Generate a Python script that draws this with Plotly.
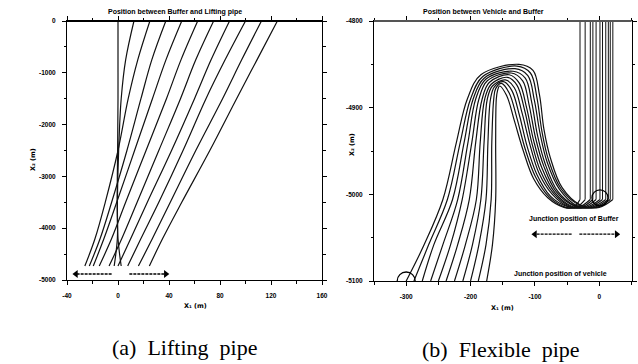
import plotly.graph_objects as go

# ---------------- data ----------------
# (a) lifting pipe: depth stations (m) and X1 position of each pipe at those depths
LIFT_DEPTH = [0, -750, -1500, -2500, -3500, -4200, -4730]
LIFT_X = [
    [0, 0, 0, -0.3, -0.6, 0, 2.5],
    [12.5, 6, 2.5, 0.5, -0.5, -0.5, -3],
    [25, 15.5, 8, 0, -10, -18, -26],
    [37.5, 26.5, 18, 7, -5, -14, -22.5],
    [50, 37.6, 27, 13, -1, -11, -19.4],
    [62.5, 49.4, 38, 22, 6, -5, -14.7],
    [75, 61, 49, 32, 15, 3, -7],
    [87.5, 73, 60, 42, 23, 10, 0],
    [100, 84, 69, 51, 32, 18, 7.6],
    [112.5, 97, 82, 61, 41, 27, 16],
    [125, 109, 93, 72, 50, 35, 24.6],
]

# (b) flexible pipe: each curve from vehicle junction to buffer junction
FLEX_X = [
    [-300, -272, -243, -222, -205, -184, -125, -103, -93, -86, -76, -58, -30, 0],
    [-288, -265, -236, -216, -200, -181, -128, -107, -97, -89, -79, -60, -32, -4],
    [-275, -257, -228, -210, -196, -179, -131, -111, -101, -92, -81, -62, -35, -8],
    [-262, -243, -220, -204, -192, -176, -134, -115, -105, -96, -84, -65, -38, -12],
    [-250, -231, -213, -198, -187, -174, -137, -119, -109, -99, -86, -67, -40, -16],
    [-238, -220, -202, -192, -182, -171, -140, -124, -113, -102, -89, -69, -42, -20],
    [-225, -208, -191, -185, -178, -168, -143, -128, -116, -105, -92, -71, -45, -24],
    [-212, -197, -184, -179, -174, -166, -146, -132, -120, -108, -94, -73, -48, -28],
    [-200, -187, -176, -173, -169, -163, -149, -136, -124, -112, -97, -76, -50, -32],
    [-188, -176, -168, -167, -164, -161, -152, -140, -128, -115, -99, -78, -52, -36],
    [-175, -166, -161, -161, -160, -158, -155, -144, -132, -118, -102, -80, -55, -40],
]
FLEX_Y = [
    [-5100, -5058, -5006, -4940, -4890, -4862, -4850, -4857, -4885, -4925, -4958, -4992, -5012, -5015],
    [-5100, -5058, -5006, -4940, -4890, -4864, -4852, -4860, -4888, -4928, -4960, -4993, -5012, -5015],
    [-5100, -5058, -5006, -4940, -4890, -4866, -4855, -4863, -4891, -4930, -4963, -4994, -5013, -5015],
    [-5100, -5058, -5006, -4940, -4890, -4867, -4858, -4866, -4894, -4932, -4965, -4996, -5013, -5015],
    [-5100, -5058, -5006, -4940, -4890, -4869, -4860, -4869, -4897, -4935, -4968, -4997, -5013, -5015],
    [-5100, -5058, -5006, -4940, -4890, -4871, -4862, -4872, -4900, -4938, -4970, -4998, -5014, -5015],
    [-5100, -5058, -5006, -4940, -4890, -4873, -4865, -4874, -4903, -4940, -4972, -4999, -5014, -5015],
    [-5100, -5058, -5006, -4940, -4890, -4875, -4868, -4877, -4906, -4942, -4975, -5000, -5014, -5015],
    [-5100, -5058, -5006, -4940, -4890, -4876, -4870, -4880, -4909, -4945, -4977, -5002, -5014, -5015],
    [-5100, -5058, -5006, -4940, -4890, -4878, -4872, -4883, -4912, -4948, -4980, -5003, -5015, -5015],
    [-5100, -5058, -5006, -4940, -4890, -4880, -4875, -4886, -4915, -4950, -4982, -5004, -5015, -5015],
]
BUFFER_X = [21, 17, 14, 10, 5, 1, -5, -10, -14, -22, -30]
BUFFER_Y = -5006
TOP_Y = -4800

L_XTICKS = [-40, 0, 40, 80, 120, 160]
L_XTEXT = ["-40", "0", "40", "80", "120", "160"]
L_YTICKS = [0, -1000, -2000, -3000, -4000, -5000]
L_YTEXT = ["0", "-1000", "-2000", "-3000", "-4000", "-5000"]
R_XTICKS = [-300, -200, -100, 0]
R_XTEXT = ["-300", "-200", "-100", "0"]
R_YTICKS = [-4800, -4900, -5000, -5100]
R_YTEXT = ["-4800", "-4900", "-5000", "-5100"]

# ---------------- figure ----------------
W, H = 638, 364
fig = go.Figure()
LINE = dict(color="#111111", width=1.2, shape="spline", smoothing=1.0)

for xs in LIFT_X:
    fig.add_trace(go.Scatter(x=xs, y=LIFT_DEPTH, mode="lines", line=LINE,
                             xaxis="x", yaxis="y", showlegend=False, hoverinfo="skip"))

for xs, ys, xb in zip(FLEX_X, FLEX_Y, BUFFER_X):
    fig.add_trace(go.Scatter(x=xs + [xb], y=ys + [BUFFER_Y], mode="lines", line=LINE,
                             xaxis="x2", yaxis="y2", showlegend=False, hoverinfo="skip"))
    fig.add_trace(go.Scatter(x=[xb, xb], y=[BUFFER_Y, TOP_Y], mode="lines",
                             line=dict(color="#111111", width=1.0),
                             xaxis="x2", yaxis="y2", showlegend=False, hoverinfo="skip"))

# arrows: dotted shafts with heads
def arrow_trace(x_tail, x_head, y, xa, ya, sym):
    fig.add_trace(go.Scatter(x=[x_tail, x_head], y=[y, y], mode="lines",
                             line=dict(color="black", width=1.3, dash="3px,1px"),
                             xaxis=xa, yaxis=ya, showlegend=False, hoverinfo="skip"))
    fig.add_trace(go.Scatter(x=[x_head], y=[y], mode="markers",
                             marker=dict(symbol=sym, size=7, color="black"),
                             xaxis=xa, yaxis=ya, showlegend=False, hoverinfo="skip"))

arrow_trace(-5, -33, -4884, "x", "y", "triangle-left")
arrow_trace(8.9, 37.5, -4884, "x", "y", "triangle-right")
arrow_trace(-43, -100, -5046, "x2", "y2", "triangle-left")
arrow_trace(-31, 27, -5046, "x2", "y2", "triangle-right")

TF = dict(family="Liberation Sans, Arial", size=6.5, color="black", weight="bold")

def ax(domain, rng, tv, tt, minor_d, anchor):
    return dict(domain=domain, range=rng, tickvals=tv, ticktext=tt, anchor=anchor,
                automargin=False,
                showline=True, linecolor="black", linewidth=1, mirror="allticks",
                ticks="outside", ticklen=4, tickwidth=1, tickcolor="black",
                minor=dict(dtick=minor_d, ticks="outside", ticklen=2.5, tickcolor="black", tickwidth=1),
                showgrid=False, zeroline=False, tickfont=TF, ticklabelstandoff=5)

xd1 = [67 / W, 322 / W]
yd1 = [1 - 280 / H, 1 - 21 / H]
xd2 = [374 / W, 631.5 / W]
yd2 = [1 - 281 / H, 1 - 21 / H]

fig.update_layout(
    width=W, height=H, margin=dict(l=0, r=0, t=0, b=0, autoexpand=False),
    paper_bgcolor="white", plot_bgcolor="white",
    xaxis=ax(xd1, [-40, 160], L_XTICKS, L_XTEXT, 20, "y"),
    yaxis=ax(yd1, [-5000, 0], L_YTICKS, L_YTEXT, 500, "x"),
    xaxis2=ax(xd2, [-350, 50], R_XTICKS, R_XTEXT, 50, "y2"),
    yaxis2=ax(yd2, [-5100, -4800], R_YTICKS, R_YTEXT, 50, "x2"),
)

SF = dict(family="Liberation Sans, Arial", size=7, color="black", weight="bold")
AF = dict(family="DejaVu Sans", size=6.5, color="black", weight="bold")
CAP = dict(family="Liberation Serif, DejaVu Serif", size=22, color="black")
ann = []
def txt(x, y, s, font, xref="paper", yref="paper", angle=0):
    ann.append(dict(x=x, y=y, xref=xref, yref=yref, text=s, showarrow=False,
                    font=font, textangle=angle, xanchor="center", yanchor="middle"))

txt(175 / W, 1 - 12 / H, "Position between Buffer and Lifting pipe", SF)
txt(483 / W, 1 - 12 / H, "Position between Vehicle and Buffer", SF)
txt(195 / W, 1 - 306 / H, "X\u2081 (m)", AF)
txt(503 / W, 1 - 308 / H, "X\u2081 (m)", AF)
txt(33 / W, 1 - 160 / H, "X\u2082 (m)", AF, angle=-90)
txt(352 / W, 1 - 145 / H, "X\u2082 (m)", AF, angle=-90)
txt(184 / W, 1 - 347 / H, "(a)\u00a0\u00a0Lifting\u00a0\u00a0pipe", CAP)
txt(501 / W, 1 - 349 / H, "(b)\u00a0\u00a0Flexible\u00a0\u00a0pipe", CAP)
txt(-39, -5028, "Junction position of Buffer", SF, "x2", "y2")
txt(-61, -5092, "Junction position of vehicle", SF, "x2", "y2")
fig.update_layout(annotations=ann)

shapes = [
    dict(type="circle", xref="x2", yref="y2", xsizemode="pixel", ysizemode="pixel",
         xanchor=-300, yanchor=-5100, x0=-9, x1=9, y0=-9, y1=9,
         line=dict(color="black", width=1.3)),
    dict(type="circle", xref="x2", yref="y2", xsizemode="pixel", ysizemode="pixel",
         xanchor=1, yanchor=-5004, x0=-8, x1=8, y0=-8, y1=8,
         line=dict(color="black", width=1.3)),
    dict(type="line", xref="paper", yref="paper", x0=xd1[0], x1=xd1[1], y0=yd1[1], y1=yd1[1],
         line=dict(color="black", width=2)),
    dict(type="line", xref="paper", yref="paper", x0=xd2[0], x1=xd2[1], y0=yd2[1], y1=yd2[1],
         line=dict(color="#555555", width=2)),
]
fig.update_layout(shapes=shapes)

fig.write_html("out.html", config={"displayModeBar": False},
               post_script="document.body.style.margin='0px';document.body.style.overflow='hidden';")
